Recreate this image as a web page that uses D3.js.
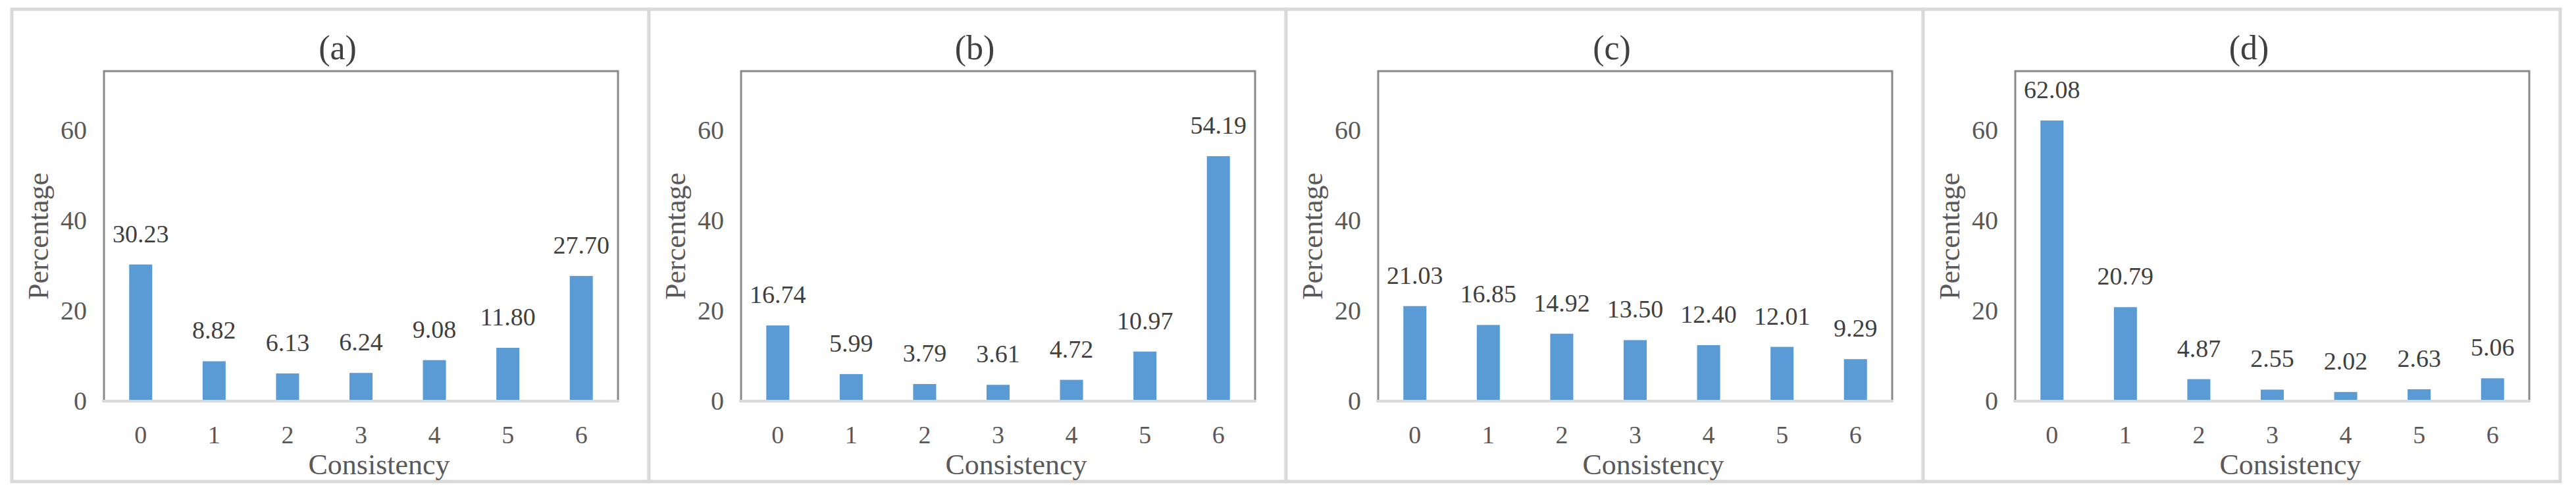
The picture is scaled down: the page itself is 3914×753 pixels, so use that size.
<!DOCTYPE html>
<html>
<head>
<meta charset="utf-8">
<script src="https://cdn.jsdelivr.net/npm/d3@7"></script>
<style>
  body { margin: 0; background: #fff; }
  text { font-family: "Palatino Linotype", "Book Antiqua", Palatino, "Liberation Serif", serif; }
</style>
</head>
<body>
<svg id="chart" width="3914" height="753"></svg>
<script>
// data
var categories = ["0", "1", "2", "3", "4", "5", "6"]
var panelTitles = ["(a)", "(b)", "(c)", "(d)"]
var valuesA = [30.23, 8.82, 6.13, 6.24, 9.08, 11.80, 27.70]
var valuesB = [16.74, 5.99, 3.79, 3.61, 4.72, 10.97, 54.19]
var valuesC = [21.03, 16.85, 14.92, 13.50, 12.40, 12.01, 9.29]
var valuesD = [62.08, 20.79, 4.87, 2.55, 2.02, 2.63, 5.06]
var yTicks = [0, 20, 40, 60]
var yMax = 73

var allValues = [valuesA, valuesB, valuesC, valuesD]

var svg = d3.select("#chart")
var panelW = 968, panelH = 717, panelX0 = 18, panelY0 = 14
var margin = {top: 94, right: 47, bottom: 122, left: 140}
var width = panelW - margin.left - margin.right,
    height = panelH - margin.top - margin.bottom

var x = d3.scaleBand().domain(categories).range([0, width])
  .paddingInner(0.686).paddingOuter(0.343)
var y = d3.scaleLinear().domain([0, yMax]).range([height, 0])

allValues.forEach(function(vals, i) {
  var panel = svg.append("g")
    .attr("transform", "translate(" + (panelX0 + i * panelW) + "," + panelY0 + ")")

  panel.append("rect")
    .attr("x", 0).attr("y", 0)
    .attr("width", panelW).attr("height", panelH)
    .attr("fill", "#fff")
    .attr("stroke", "#d9d9d9")
    .attr("stroke-width", 5)

  panel.append("text")
    .attr("x", 495).attr("y", 76)
    .attr("text-anchor", "middle")
    .attr("font-size", 52)
    .attr("fill", "#404040")
    .text(panelTitles[i])

  var g = panel.append("g")
    .attr("transform", "translate(" + margin.left + "," + margin.top + ")")

  // plot area frame
  g.append("rect")
    .attr("width", width).attr("height", height)
    .attr("fill", "none")
    .attr("stroke", "#898989")
    .attr("stroke-width", 3)

  var yAxis = g.append("g")
    .call(d3.axisLeft(y).tickValues(yTicks).tickSize(0).tickPadding(26))
  yAxis.select(".domain").remove()
  yAxis.selectAll("text")
    .attr("font-size", 40)
    .attr("fill", "#595959")
    .attr("font-family", null)

  var xAxis = g.append("g")
    .attr("transform", "translate(0," + height + ")")
    .call(d3.axisBottom(x).tickSize(0).tickPadding(37))
  xAxis.select(".domain")
    .attr("stroke", "#d9d9d9")
    .attr("stroke-width", 4)
    .attr("d", "M-3,0H" + (width + 2))
  xAxis.selectAll("text")
    .attr("font-size", 38)
    .attr("fill", "#595959")
    .attr("font-family", null)

  g.selectAll(".bar")
    .data(vals)
    .enter().append("rect")
    .attr("class", "bar")
    .attr("x", function(d, j) { return x(categories[j]) })
    .attr("width", x.bandwidth())
    .attr("y", function(d) { return y(d) })
    .attr("height", function(d) { return height - y(d) - 2 })
    .attr("fill", "#5b9bd5")

  g.selectAll(".label")
    .data(vals)
    .enter().append("text")
    .attr("class", "label")
    .attr("x", function(d, j) { return x(categories[j]) + x.bandwidth() / 2 })
    .attr("y", function(d) { return y(d) - 34 })
    .attr("text-anchor", "middle")
    .attr("font-size", 38)
    .attr("fill", "#404040")
    .text(function(d) { return d.toFixed(2) })

  g.append("text")
    .attr("transform", "translate(" + (55 - margin.left) + "," + (height / 2) + ") rotate(-90)")
    .attr("text-anchor", "middle")
    .attr("font-size", 44)
    .attr("fill", "#595959")
    .text("Percentage")

  g.append("text")
    .attr("x", 558 - margin.left)
    .attr("y", 706 - margin.top)
    .attr("text-anchor", "middle")
    .attr("font-size", 44)
    .attr("fill", "#595959")
    .text("Consistency")
})
</script>
</body>
</html>
